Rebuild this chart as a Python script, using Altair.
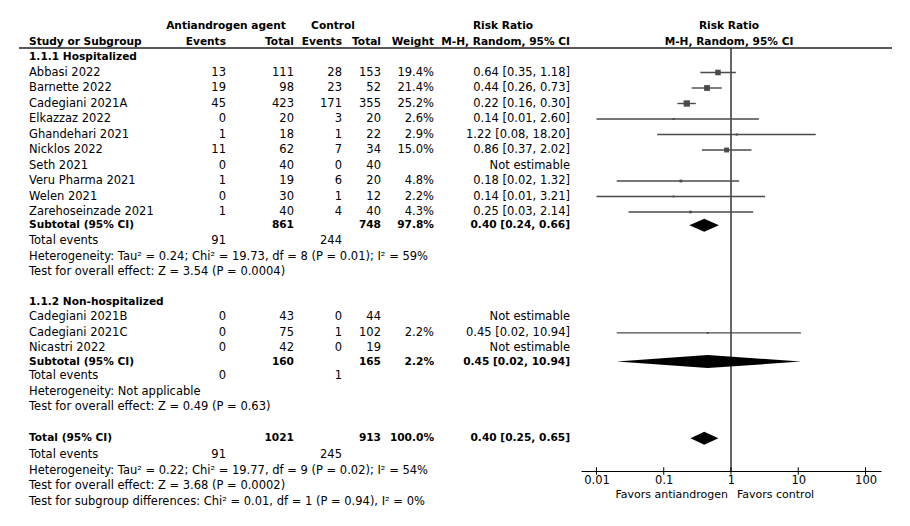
import altair as alt
import pandas as pd

# ---------------- data ----------------
hosp_names = ["Abbasi 2022", "Barnette 2022", "Cadegiani 2021A", "Elkazzaz 2022",
              "Ghandehari 2021", "Nicklos 2022", "Seth 2021", "Veru Pharma 2021",
              "Welen 2021", "Zarehoseinzade 2021"]
hosp_ev_t = [13, 19, 45, 0, 1, 11, 0, 1, 0, 1]
hosp_tot_t = [111, 98, 423, 20, 18, 62, 40, 19, 30, 40]
hosp_ev_c = [28, 23, 171, 3, 1, 7, 0, 6, 1, 4]
hosp_tot_c = [153, 52, 355, 20, 22, 34, 40, 20, 12, 40]
hosp_w = [19.4, 21.4, 25.2, 2.6, 2.9, 15.0, None, 4.8, 2.2, 4.3]
hosp_rr = [0.64, 0.44, 0.22, 0.14, 1.22, 0.86, None, 0.18, 0.14, 0.25]
hosp_lo = [0.35, 0.26, 0.16, 0.01, 0.08, 0.37, None, 0.02, 0.01, 0.03]
hosp_hi = [1.18, 0.73, 0.30, 2.60, 18.20, 2.02, None, 1.32, 3.21, 2.14]

nh_names = ["Cadegiani 2021B", "Cadegiani 2021C", "Nicastri 2022"]
nh_ev_t = [0, 0, 0]
nh_tot_t = [43, 75, 42]
nh_ev_c = [0, 1, 0]
nh_tot_c = [44, 102, 19]
nh_w = [None, 2.2, None]
nh_rr = [None, 0.45, None]
nh_lo = [None, 0.02, None]
nh_hi = [None, 10.94, None]

pool_labels = ["Subtotal (95% CI)", "Subtotal (95% CI)", "Total (95% CI)"]
pool_tot_t = [861, 160, 1021]
pool_tot_c = [748, 165, 913]
pool_w = [97.8, 2.2, 100.0]
pool_rr = [0.40, 0.45, 0.40]
pool_lo = [0.24, 0.02, 0.25]
pool_hi = [0.66, 10.94, 0.65]
pool_ev_t = [91, 0, 91]
pool_ev_c = [244, 1, 245]

group_titles = ["1.1.1 Hospitalized", "1.1.2 Non-hospitalized"]
het_lines_1 = ["Heterogeneity: Tau\u00b2 = 0.24; Chi\u00b2 = 19.73, df = 8 (P = 0.01); I\u00b2 = 59%",
               "Test for overall effect: Z = 3.54 (P = 0.0004)"]
het_lines_2 = ["Heterogeneity: Not applicable",
               "Test for overall effect: Z = 0.49 (P = 0.63)"]
het_lines_tot = ["Heterogeneity: Tau\u00b2 = 0.22; Chi\u00b2 = 19.77, df = 9 (P = 0.02); I\u00b2 = 54%",
                 "Test for overall effect: Z = 3.68 (P = 0.0002)",
                 "Test for subgroup differences: Chi\u00b2 = 0.01, df = 1 (P = 0.94), I\u00b2 = 0%"]
axis_ticks = [0.01, 0.1, 1, 10, 100]
favors_left = "Favors antiandrogen"
favors_right = "Favors control"

# ---------------- layout ----------------
FONT = "DejaVu Sans"
FS = 11.5
FS_B = 10.6
W, H = 894, 510
ROW_PX, ROW0 = 15.5, 49.0
y_dom = [-ROW0 / ROW_PX, (H - ROW0) / ROW_PX]
ys = alt.Scale(domain=y_dom, range=[0, H], zero=False, nice=False)
xs = alt.Scale(type="log", domain=[10 ** -2.23, 10 ** 2.23], range=[573, 873], nice=False)
xaxis = alt.Axis(values=axis_ticks, format="~g", ticks=False, grid=False, title=None,
                 offset=-47, domainColor="black", domainWidth=1.2, labelFont=FONT,
                 labelFontSize=11.5, labelColor="black", labelPadding=3, labelFlush=False)

cols = {
    "name": (21, "left"), "evt": (218, "right"), "tott": (286, "right"),
    "evc": (334, "right"), "totc": (373, "right"), "w": (426, "right"),
    "rr": (562, "right"), "h_anti": (218, "center"), "h_ctrl": (325, "center"),
    "h_rr": (495, "center"), "h_forest": (721, "center"),
}

texts = []


def add(r, col, txt, bold=False):
    texts.append({"r": r, "col": col, "text": txt, "bold": bold})


def fmt_rr(rr, lo, hi):
    if rr is None:
        return "Not estimable"
    return f"{rr:.2f} [{lo:.2f}, {hi:.2f}]"


# header
add(-2, "h_anti", "Antiandrogen agent", True)
add(-2, "h_ctrl", "Control", True)
add(-2, "h_rr", "Risk Ratio", True)
add(-2, "h_forest", "Risk Ratio", True)
for c, t in [("name", "Study or Subgroup"), ("evt", "Events"), ("tott", "Total"),
             ("evc", "Events"), ("totc", "Total"), ("w", "Weight"),
             ("rr", "M-H, Random, 95% CI"), ("h_forest", "M-H, Random, 95% CI")]:
    add(-1, c, t, True)

study_rows = []
pool_rows = []


def add_group(start, title, names, evt, tott, evc, totc, w, rr, lo, hi):
    add(start, "name", title, True)
    r = start
    for i in range(len(names)):
        r = start + 1 + i
        add(r, "name", names[i])
        add(r, "evt", str(evt[i]))
        add(r, "tott", str(tott[i]))
        add(r, "evc", str(evc[i]))
        add(r, "totc", str(totc[i]))
        if w[i] is not None:
            add(r, "w", f"{w[i]:.1f}%")
        add(r, "rr", fmt_rr(rr[i], lo[i], hi[i]))
        if rr[i] is not None:
            study_rows.append({"r": r, "rr": rr[i], "lo": lo[i], "hi": hi[i], "w": w[i]})
    return r


def add_pool(r, k, het_lines, gap_after=1.05):
    add(r, "name", pool_labels[k], True)
    add(r, "tott", str(pool_tot_t[k]), True)
    add(r, "totc", str(pool_tot_c[k]), True)
    add(r, "w", f"{pool_w[k]:.1f}%", True)
    add(r, "rr", fmt_rr(pool_rr[k], pool_lo[k], pool_hi[k]), True)
    pool_rows.append({"k": k, "r": r, "rr": pool_rr[k], "lo": pool_lo[k], "hi": pool_hi[k]})
    rr_ = r + gap_after
    add(rr_, "name", "Total events")
    add(rr_, "evt", str(pool_ev_t[k]))
    add(rr_, "evc", str(pool_ev_c[k]))
    for j, line in enumerate(het_lines):
        add(rr_ + 1 + j, "name", line)
    return rr_ + len(het_lines)


last = add_group(0, group_titles[0], hosp_names, hosp_ev_t, hosp_tot_t, hosp_ev_c,
                 hosp_tot_c, hosp_w, hosp_rr, hosp_lo, hosp_hi)
end1 = add_pool(last + 0.85, 0, het_lines_1)
g2 = end1 + 1.9
last2 = add_group(g2, group_titles[1], nh_names, nh_ev_t, nh_tot_t, nh_ev_c,
                  nh_tot_c, nh_w, nh_rr, nh_lo, nh_hi)
end2 = add_pool(last2 + 0.85, 1, het_lines_2, gap_after=0.95)
tot_r = end2 + 2.0
add_pool(tot_r, 2, het_lines_tot, gap_after=1.1)

SEP_R = -0.58
AXIS_R = (463 - ROW0) / ROW_PX
FAV_R = (486.5 - ROW0) / ROW_PX
DIAM_H = 0.42

tdf = pd.DataFrame(texts)
layers = []
for (c, b), sub in tdf.groupby(["col", "bold"]):
    x, al = cols[c]
    layers.append(
        alt.Chart(sub).mark_text(align=al, baseline="middle", font=FONT,
                                 fontSize=FS_B if b else FS,
                                 fontWeight="bold" if b else "normal", color="black")
        .encode(x=alt.value(x), y=alt.Y("r:Q", scale=ys, axis=None), text="text:N")
    )

sep = alt.Chart(pd.DataFrame({"r": [SEP_R]})).mark_rule(color="#222", strokeWidth=1.5).encode(
    x=alt.value(11), x2=alt.value(884), y=alt.Y("r:Q", scale=ys, axis=None))

null_df = pd.DataFrame({"x": [1], "r1": [SEP_R], "r2": [AXIS_R]})
null_line = alt.Chart(null_df).mark_rule(color="black", strokeWidth=1.2).encode(
    x=alt.X("x:Q", scale=xs, axis=xaxis), y=alt.Y("r1:Q", scale=ys, axis=None), y2="r2:Q")

tick_df = pd.DataFrame({"x": axis_ticks})
tick_df["r1"] = AXIS_R - 0.24
tick_df["r2"] = AXIS_R + 0.24
ticks = alt.Chart(tick_df).mark_rule(color="black", strokeWidth=1).encode(
    x=alt.X("x:Q", scale=xs, axis=xaxis), y=alt.Y("r1:Q", scale=ys, axis=None), y2="r2:Q")

sdf = pd.DataFrame(study_rows)
ci = alt.Chart(sdf).mark_rule(color="#4a4a4a", strokeWidth=1.4).encode(
    x=alt.X("lo:Q", scale=xs, axis=xaxis), x2="hi:Q", y=alt.Y("r:Q", scale=ys, axis=None))
sq = alt.Chart(sdf).mark_square(color="#4a4a4a", opacity=1).encode(
    x=alt.X("rr:Q", scale=xs, axis=xaxis), y=alt.Y("r:Q", scale=ys, axis=None),
    size=alt.Size("w:Q", scale=alt.Scale(domain=[0, 25.2], range=[0, 40]), legend=None))

drows = []
for p in pool_rows:
    drows.append({"id": p["k"], "x": p["lo"], "y1": p["r"], "y2": p["r"]})
    drows.append({"id": p["k"], "x": p["rr"], "y1": p["r"] - DIAM_H, "y2": p["r"] + DIAM_H})
    drows.append({"id": p["k"], "x": p["hi"], "y1": p["r"], "y2": p["r"]})
diam = alt.Chart(pd.DataFrame(drows)).mark_area(color="black", orient="vertical",
                                                 interpolate="linear", opacity=1).encode(
    x=alt.X("x:Q", scale=xs, axis=xaxis), y=alt.Y("y1:Q", scale=ys, axis=None), y2="y2:Q",
    detail="id:N")

fav_df = pd.DataFrame({"x": [1], "r": [FAV_R], "l": [favors_left], "rt": [favors_right]})
fav_l = alt.Chart(fav_df).mark_text(align="right", baseline="middle", font=FONT, fontSize=11,
                                    dx=-3, color="black").encode(
    x=alt.X("x:Q", scale=xs, axis=xaxis), y=alt.Y("r:Q", scale=ys, axis=None), text="l:N")
fav_r = alt.Chart(fav_df).mark_text(align="left", baseline="middle", font=FONT, fontSize=11,
                                    dx=6, color="black").encode(
    x=alt.X("x:Q", scale=xs, axis=xaxis), y=alt.Y("r:Q", scale=ys, axis=None), text="rt:N")

chart = alt.layer(null_line, ticks, sep, ci, sq, diam, fav_l, fav_r, *layers).properties(
    width=W, height=H, padding=0, autosize=alt.AutoSizeParams(type="none"),
    background="white"
).configure_view(stroke=None)

chart.save("out.html", embed_options={"renderer": "svg", "actions": False})
